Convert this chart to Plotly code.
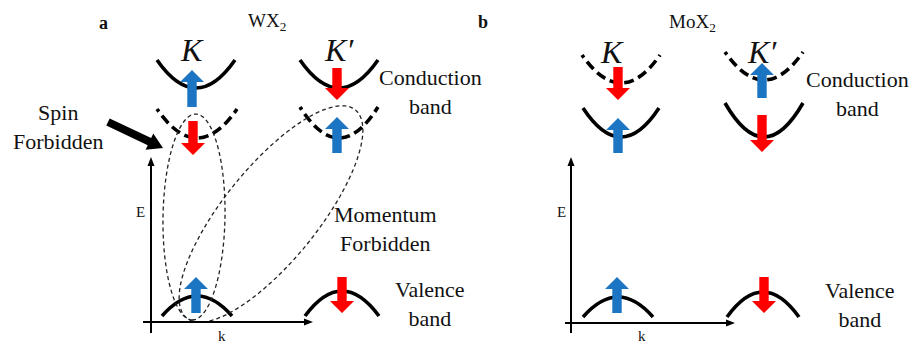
import numpy as np
import plotly.graph_objects as go

W, H = 914, 345
FONT = "Liberation Serif, Times New Roman, serif"
BLUE = "#1b75c3"
RED = "#fe0000"

# ---------------- text content ----------------
panel_labels = ["a", "b"]
panel_label_x = [103, 483]
panel_label_y = [23, 22]

panel_titles = ["WX<sub>2</sub>", "MoX<sub>2</sub>"]
panel_title_x = [267, 692]
panel_title_y = [22, 23]

valley_labels = ["K", "K′", "K", "K′"]
valley_label_x = [192, 339, 612, 762]
valley_label_y = [50, 50, 52, 52]

side_texts = ["Conduction<br>band", "Valence<br>band", "Momentum<br>Forbidden",
              "Spin<br>Forbidden", "Conduction<br>band", "Valence<br>band"]
side_text_x = [430, 430, 385, 58, 857, 860]
side_text_y = [92, 304, 229, 127, 94, 305]

axis_labels = ["E", "k", "E", "k"]
axis_label_x = [140, 222, 561, 642]
axis_label_y = [212, 336, 212, 336]

# ---------------- band arcs ----------------
# centre x, half width, end y, vertex y, dashed?
band_cx = [196, 339, 197, 339, 197, 342, 621, 621, 764, 764, 618, 763]
band_hw = [39, 39, 40, 39, 35, 37, 39, 38, 39, 39, 35, 36]
band_end_y = [60, 60, 109, 107, 316, 316, 55, 108, 52, 103, 317, 317]
band_vertex_y = [88, 88, 138, 138, 296, 291, 83, 137, 80, 137, 297, 292]
band_dashed = [False, False, True, True, False, False,
               True, False, True, False, False, False]

# ---------------- spin arrows ----------------
spin_x = [192, 337, 193, 337, 196, 342, 618, 618, 762, 762, 617, 764]
spin_tail = [107, 68, 121, 153, 313, 277, 67, 153, 98, 115, 313, 277]
spin_tip = [70, 100, 155, 117, 277, 313, 100, 118, 63, 152, 277, 313]
spin_up = [True, False, False, True, True, False,
           False, True, True, False, True, False]

# ---------------- dashed transition ellipses ----------------
ell_cx = [194, 271]
ell_cy = [217, 214]
ell_a = [103, 134]
ell_b = [31, 47]
ell_angle = [91, -51]

# ---------------- E-k axes ----------------
axis_vx = [151, 571]
axis_v_bottom = [333, 333]
axis_v_top = [157, 157]
axis_hy = [322, 323]
axis_h_left = [143, 565]
axis_h_right = [313, 735]

# ---------------- "Spin Forbidden" pointer ----------------
pointer_start = [108, 122]
pointer_end = [163, 148]

shapes = []

# band arcs (quadratic Bezier through ends and vertex)
dash_pattern = "3px,5px,10px,5px,10px,5px,10px,5px,10px,5px,10px,5px,10px,5px,10px,5px,10px,5px"
for cx, hw, ye, yv, dashed in zip(band_cx, band_hw, band_end_y, band_vertex_y, band_dashed):
    cy = 2 * yv - ye
    path = f"M {cx - hw},{ye} Q {cx},{cy} {cx + hw},{ye}"
    shapes.append(dict(type="path", path=path, xref="x", yref="y",
                       line=dict(color="black", width=3.6,
                                 dash=dash_pattern if dashed else "solid")))


def block_arrow(x, y0, y1, sw=4.7, hw=12, hl=12):
    s = 1 if y1 > y0 else -1
    neck = y1 - s * hl
    pts = [(x - sw, y0), (x + sw, y0), (x + sw, neck), (x + hw, neck),
           (x, y1), (x - hw, neck), (x - sw, neck)]
    return "M " + " L ".join(f"{px},{py}" for px, py in pts) + " Z"


for x, y0, y1, up in zip(spin_x, spin_tail, spin_tip, spin_up):
    col = BLUE if up else RED
    shapes.append(dict(type="path", path=block_arrow(x, y0, y1),
                       xref="x", yref="y", fillcolor=col, line=dict(width=0)))

# dashed ellipses
t = np.linspace(0, 2 * np.pi, 90)
for cx, cy, a, b, ang in zip(ell_cx, ell_cy, ell_a, ell_b, ell_angle):
    th = np.deg2rad(ang)
    ux, uy = np.cos(th), np.sin(th)
    vx, vy = -uy, ux
    xs = cx + a * np.cos(t) * ux + b * np.sin(t) * vx
    ys = cy + a * np.cos(t) * uy + b * np.sin(t) * vy
    path = "M " + " L ".join(f"{px:.2f},{py:.2f}" for px, py in zip(xs, ys)) + " Z"
    shapes.append(dict(type="path", path=path, xref="x", yref="y",
                       line=dict(color="#222", width=1.3, dash="4px,3px")))


def tri(x_tip, y_tip, dx, dy, length=9, half=3.5):
    n = np.hypot(dx, dy)
    ux, uy = dx / n, dy / n
    bx, by = x_tip - ux * length, y_tip - uy * length
    px, py = -uy, ux
    pts = [(x_tip, y_tip), (bx + px * half, by + py * half), (bx - px * half, by - py * half)]
    return "M " + " L ".join(f"{p[0]:.2f},{p[1]:.2f}" for p in pts) + " Z"


# axes
for vx, vb, vt, hy, hl, hr in zip(axis_vx, axis_v_bottom, axis_v_top, axis_hy, axis_h_left, axis_h_right):
    shapes.append(dict(type="line", x0=vx, x1=vx, y0=vb, y1=vt + 6, xref="x", yref="y",
                       line=dict(color="black", width=2)))
    shapes.append(dict(type="path", path=tri(vx, vt, 0, -1), xref="x", yref="y",
                       fillcolor="black", line=dict(width=0)))
    shapes.append(dict(type="line", x0=hl, x1=hr - 6, y0=hy, y1=hy, xref="x", yref="y",
                       line=dict(color="black", width=2)))
    shapes.append(dict(type="path", path=tri(hr, hy, 1, 0), xref="x", yref="y",
                       fillcolor="black", line=dict(width=0)))

# pointer arrow
(sx, sy), (ex, ey) = pointer_start, pointer_end
dx, dy = ex - sx, ey - sy
n = np.hypot(dx, dy)
ux, uy = dx / n, dy / n
px, py = -uy, ux
hl_, hw_, sw_ = 15, 9, 4
nx, ny = ex - ux * hl_, ey - uy * hl_
pts = [(sx + px * sw_, sy + py * sw_), (nx + px * sw_, ny + py * sw_), (nx + px * hw_, ny + py * hw_),
       (ex, ey), (nx - px * hw_, ny - py * hw_), (nx - px * sw_, ny - py * sw_), (sx - px * sw_, sy - py * sw_)]
shapes.append(dict(type="path", path="M " + " L ".join(f"{p[0]:.2f},{p[1]:.2f}" for p in pts) + " Z",
                   xref="x", yref="y", fillcolor="black", line=dict(width=0)))

annotations = []


def txt(x, y, text, size):
    annotations.append(dict(x=x, y=y, xref="x", yref="y", text=text, showarrow=False,
                            xanchor="center", yanchor="middle",
                            font=dict(family=FONT, size=size, color="#111")))


for s, x, y in zip(panel_labels, panel_label_x, panel_label_y):
    txt(x, y, f"<b>{s}</b>", 18)
for s, x, y in zip(panel_titles, panel_title_x, panel_title_y):
    txt(x, y, s, 19)
for s, x, y in zip(valley_labels, valley_label_x, valley_label_y):
    txt(x, y, f"<i>{s}</i>", 32)
for s, x, y in zip(side_texts, side_text_x, side_text_y):
    txt(x, y, s, 22)
for s, x, y in zip(axis_labels, axis_label_x, axis_label_y):
    txt(x, y, s, 15)

fig = go.Figure()
fig.update_layout(
    width=W, height=H, margin=dict(l=0, r=0, t=0, b=0),
    paper_bgcolor="white", plot_bgcolor="white",
    xaxis=dict(range=[0, W], visible=False, fixedrange=True),
    yaxis=dict(range=[H, 0], visible=False, fixedrange=True),
    shapes=shapes, annotations=annotations, showlegend=False,
)
fig.write_html("out.html", config={"displayModeBar": False},
               post_script="document.body.style.margin='0';document.body.style.overflow='hidden';")
